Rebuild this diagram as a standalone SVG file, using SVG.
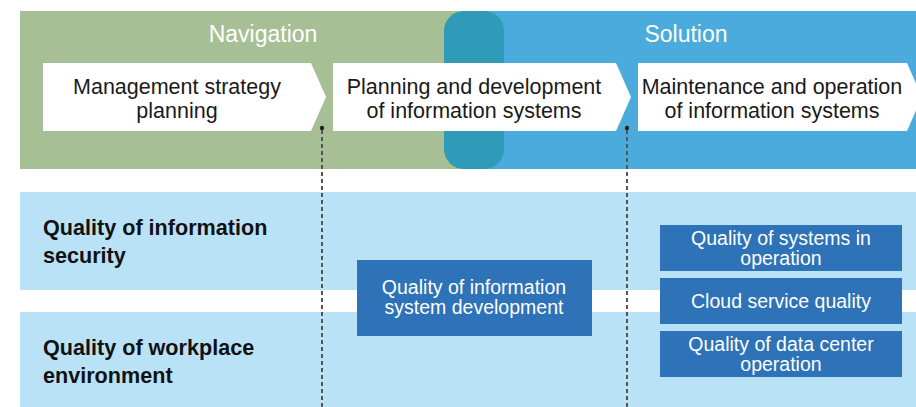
<svg xmlns="http://www.w3.org/2000/svg" width="916" height="407" viewBox="0 0 916 407">
<style>
.hdr{font-family:"Liberation Sans",Arial,sans-serif;font-size:23px;fill:#fff;text-anchor:middle}
.stp{font-family:"Liberation Sans",Arial,sans-serif;font-size:21.5px;fill:#1a1a1a;text-anchor:middle}
.lbl{font-family:"Liberation Sans",Arial,sans-serif;font-size:21.6px;font-weight:bold;fill:#111}
.box{fill:#2e72b8}
.bt{font-family:"Liberation Sans",Arial,sans-serif;font-size:19.5px;fill:#fff;text-anchor:middle}
.chev{fill:#fff}
.dash{stroke:#555;stroke-width:2;stroke-dasharray:4,3;fill:none}
</style>
<rect id="bg" x="0" y="0" width="916" height="407" fill="#fff"/>
<g id="navigation">
<rect x="20" y="11" width="460" height="158" fill="#a6bf94"/>
<text class="hdr" x="263" y="42">Navigation</text>
</g>
<g id="solution">
<rect x="474" y="11" width="442" height="158" fill="#4aabdc"/>
<rect x="444" y="11" width="60" height="158" rx="20" fill="#2f9bb8"/>
<text class="hdr" x="686" y="42">Solution</text>
</g>
<g id="row-security">
<rect x="20" y="192" width="896" height="98" fill="#bae2f7"/>
<text class="lbl" x="43" y="235">Quality of information</text>
<text class="lbl" x="43" y="263">security</text>
</g>
<g id="row-workplace">
<rect x="20" y="312" width="896" height="95" fill="#bae2f7"/>
<text class="lbl" x="43" y="355">Quality of workplace</text>
<text class="lbl" x="43" y="383">environment</text>
</g>
<g id="step1">
<polygon class="chev" points="43,63 311,63 326,97 311,131 43,131"/>
<text class="stp" x="177" y="94">Management strategy</text>
<text class="stp" x="177" y="118">planning</text>
</g>
<g id="step2">
<polygon class="chev" points="333,63 616,63 631,97 616,131 333,131"/>
<text class="stp" x="474" y="94">Planning and development</text>
<text class="stp" x="474" y="118">of information systems</text>
</g>
<g id="step3">
<polygon class="chev" points="638,63 907,63 922,97 907,131 638,131"/>
<text class="stp" x="772" y="94">Maintenance and operation</text>
<text class="stp" x="772" y="118">of information systems</text>
</g>
<g id="connectors">
<line class="dash" x1="322" y1="130" x2="322" y2="407"/>
<circle cx="322" cy="128" r="2.2" fill="#222"/>
<line class="dash" x1="627" y1="130" x2="627" y2="407"/>
<circle cx="627" cy="128" r="2.2" fill="#222"/>
</g>
<g id="dev-quality">
<rect class="box" x="357" y="260" width="235" height="76"/>
<text class="bt" x="474" y="294">Quality of information</text>
<text class="bt" x="474" y="314">system development</text>
</g>
<g id="ops-quality">
<rect class="box" x="660" y="225" width="242" height="46"/>
<text class="bt" x="781" y="245">Quality of systems in</text>
<text class="bt" x="781" y="265">operation</text>
</g>
<g id="cloud-quality">
<rect class="box" x="660" y="278" width="242" height="46"/>
<text class="bt" x="781" y="308">Cloud service quality</text>
</g>
<g id="dc-quality">
<rect class="box" x="660" y="331" width="242" height="46"/>
<text class="bt" x="781" y="351">Quality of data center</text>
<text class="bt" x="781" y="371">operation</text>
</g>
</svg>
